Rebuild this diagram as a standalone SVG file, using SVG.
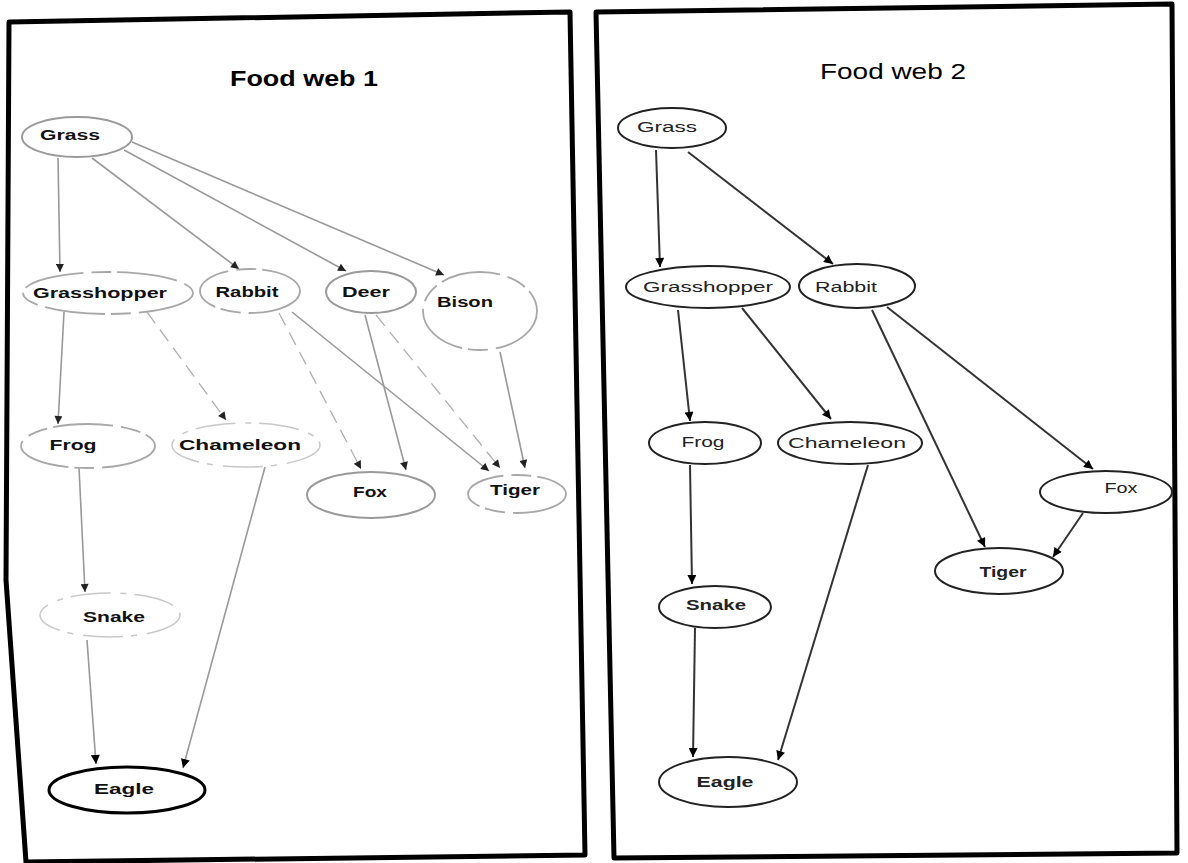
<svg xmlns="http://www.w3.org/2000/svg" width="1188" height="863" viewBox="0 0 1188 863">
<defs>
<style>
.panel{fill:none;stroke:#000;stroke-width:5;stroke-linejoin:round}
.title{font-family:"Liberation Sans",Arial,sans-serif;font-size:22px;fill:#000;text-anchor:middle}
.t1{font-family:"Liberation Sans",Arial,sans-serif;font-size:14px;font-weight:bold;fill:#111;text-anchor:middle}
.t2{font-family:"Liberation Sans",Arial,sans-serif;font-size:14px;fill:#222;text-anchor:middle}
.n1{fill:#fff;stroke:#9a9a9a;stroke-width:2}
.n1d{fill:#fff;stroke:#a8a8a8;stroke-width:1.8;stroke-dasharray:60 8 20 6}
.n1f{fill:#fff;stroke:#c8c8c8;stroke-width:1.5;stroke-dasharray:40 10 6 8}
.n2{fill:#fff;stroke:#222;stroke-width:2}
.e1{fill:none;stroke:#999;stroke-width:1.6}
.e1d{fill:none;stroke:#b0b0b0;stroke-width:1.3;stroke-dasharray:14 8}
.e2{fill:none;stroke:#333;stroke-width:2}
</style>
<marker id="ag" viewBox="0 0 10 10" refX="10" refY="5" markerWidth="9" markerHeight="8" markerUnits="userSpaceOnUse" orient="auto"><path d="M0,0 L10,5 L0,10 z" fill="#222"/></marker>
<marker id="ab" viewBox="0 0 10 10" refX="10" refY="5" markerWidth="10" markerHeight="9" markerUnits="userSpaceOnUse" orient="auto"><path d="M0,0 L10,5 L0,10 z" fill="#000"/></marker>
</defs>
<rect x="0" y="0" width="1188" height="863" fill="#fff"/>

<g id="panel1">
<polygon class="panel" points="9,22 570,12 585,855 26,862 6,580"/>
<text class="title" x="304" y="86" font-weight="bold" textLength="148" lengthAdjust="spacingAndGlyphs">Food web 1</text>
</g>
<g id="panel2">
<polygon class="panel" points="596,12 1172,4 1177,853 614,858"/>
<text class="title" x="893" y="79" textLength="146" lengthAdjust="spacingAndGlyphs">Food web 2</text>
</g>

<g id="connectors">
<!-- Food web 1 -->
<path class="e1" d="M58,158 L60,272" marker-end="url(#ag)"/>
<path class="e1" stroke-width="1.2" d="M92,158 L239,269" marker-end="url(#ag)"/>
<path class="e1" stroke="#888" stroke-width="3" d="M124,150 L346,271" marker-end="url(#ag)"/>
<path class="e1" stroke-width="2.4" d="M132,142 L444,275" marker-end="url(#ag)"/>
<path class="e1" stroke-width="2" d="M64,312 L58,424" marker-end="url(#ag)"/>
<path class="e1d" d="M147,312 L226,420" marker-end="url(#ag)"/>
<path class="e1d" d="M279,313 L361,469" marker-end="url(#ag)"/>
<path class="e1" stroke="#888" stroke-width="2" d="M292,312 L489,471" marker-end="url(#ag)"/>
<path class="e1" stroke="#888" stroke-width="2.5" d="M365,315 L406,470" marker-end="url(#ag)"/>
<path class="e1d" d="M376,315 L500,468" marker-end="url(#ag)"/>
<path class="e1" stroke-width="1.5" d="M500,352 L525,468" marker-end="url(#ag)"/>
<path class="e1" stroke-width="1.5" d="M79,468 L85,592" marker-end="url(#ag)"/>
<path class="e1" stroke="#555" stroke-width="2" d="M265,467 L183,768" marker-end="url(#ab)"/>
<path class="e1" stroke="#222" stroke-width="2.5" d="M87,640 L96,764" marker-end="url(#ab)"/>
<!-- Food web 2 -->
<path class="e2" stroke-width="2.5" d="M656,150 L660,267" marker-end="url(#ab)"/>
<path class="e2" stroke-width="2.5" d="M688,152 L833,264" marker-end="url(#ab)"/>
<path class="e2" stroke="#555" stroke-width="1.5" d="M678,310 L690,421" marker-end="url(#ab)"/>
<path class="e2" d="M742,308 L831,419" marker-end="url(#ab)"/>
<path class="e2" stroke="#444" stroke-width="1.8" d="M872,310 L985,547" marker-end="url(#ab)"/>
<path class="e2" stroke="#777" stroke-width="1" d="M887,307 L1093,469" marker-end="url(#ab)"/>
<path class="e2" d="M1083,513 L1053,557" marker-end="url(#ab)"/>
<path class="e2" d="M690,465 L692,584" marker-end="url(#ab)"/>
<path class="e2" stroke="#444" stroke-width="1.5" d="M868,465 L778,760" marker-end="url(#ab)"/>
<path class="e2" d="M695,628 L693,757" marker-end="url(#ab)"/>
</g>

<!-- Food web 1 nodes -->
<g id="w1-grass"><ellipse class="n1" cx="77" cy="137" rx="55" ry="20"/><text class="t1" x="70" y="140" textLength="60" lengthAdjust="spacingAndGlyphs">Grass</text></g>
<g id="w1-grasshopper"><ellipse class="n1d" cx="108" cy="293" rx="85" ry="21"/><text class="t1" x="100" y="298" textLength="134" lengthAdjust="spacingAndGlyphs">Grasshopper</text></g>
<g id="w1-rabbit"><ellipse class="n1d" cx="250" cy="291" rx="50" ry="22"/><text class="t1" x="247" y="297" textLength="63" lengthAdjust="spacingAndGlyphs">Rabbit</text></g>
<g id="w1-deer"><ellipse class="n1" cx="371" cy="292" rx="45" ry="21"/><text class="t1" x="366" y="297" textLength="48" lengthAdjust="spacingAndGlyphs">Deer</text></g>
<g id="w1-bison"><ellipse class="n1d" cx="480" cy="311" rx="57" ry="39"/><text class="t1" x="465" y="307" textLength="56" lengthAdjust="spacingAndGlyphs">Bison</text></g>
<g id="w1-frog"><ellipse class="n1d" cx="88" cy="446" rx="67" ry="22"/><text class="t1" x="73" y="450" textLength="47" lengthAdjust="spacingAndGlyphs">Frog</text></g>
<g id="w1-chameleon"><ellipse class="n1f" cx="246" cy="445" rx="74" ry="22"/><text class="t1" x="240" y="450" textLength="122" lengthAdjust="spacingAndGlyphs" fill="#333">Chameleon</text></g>
<g id="w1-fox"><ellipse class="n1" cx="371" cy="495" rx="64" ry="23"/><text class="t1" x="370" y="497" textLength="34" lengthAdjust="spacingAndGlyphs">Fox</text></g>
<g id="w1-tiger"><ellipse class="n1d" cx="517" cy="494" rx="49" ry="19"/><text class="t1" x="515" y="495" textLength="50" lengthAdjust="spacingAndGlyphs">Tiger</text></g>
<g id="w1-snake"><ellipse class="n1f" cx="110" cy="615" rx="70" ry="22"/><text class="t1" x="114" y="622" textLength="62" lengthAdjust="spacingAndGlyphs">Snake</text></g>
<g id="w1-eagle"><ellipse cx="127" cy="790" rx="78" ry="23" fill="#fff" stroke="#000" stroke-width="3"/><text class="t1" x="124" y="794" textLength="60" lengthAdjust="spacingAndGlyphs" fill="#000">Eagle</text></g>

<!-- Food web 2 nodes -->
<g id="w2-grass"><ellipse class="n2" cx="672" cy="128" rx="54" ry="20"/><text class="t2" x="667" y="132" textLength="60" lengthAdjust="spacingAndGlyphs">Grass</text></g>
<g id="w2-grasshopper"><ellipse class="n2" cx="708" cy="287" rx="82" ry="21"/><text class="t2" x="708" y="292" textLength="130" lengthAdjust="spacingAndGlyphs">Grasshopper</text></g>
<g id="w2-rabbit"><ellipse class="n2" cx="857" cy="286" rx="58" ry="22"/><text class="t2" x="846" y="292" textLength="62" lengthAdjust="spacingAndGlyphs">Rabbit</text></g>
<g id="w2-frog"><ellipse class="n2" stroke-width="1.6" cx="705" cy="443" rx="56" ry="21"/><text class="t2" x="703" y="447" textLength="43" lengthAdjust="spacingAndGlyphs">Frog</text></g>
<g id="w2-chameleon"><ellipse class="n2" stroke-width="1.6" cx="850" cy="443" rx="72" ry="21"/><text class="t2" x="847" y="448" textLength="118" lengthAdjust="spacingAndGlyphs">Chameleon</text></g>
<g id="w2-fox"><ellipse class="n2" stroke="#444" stroke-width="1.5" cx="1106" cy="492" rx="66" ry="21"/><text class="t2" x="1121" y="493" textLength="33" lengthAdjust="spacingAndGlyphs">Fox</text></g>
<g id="w2-tiger"><ellipse class="n2" stroke-width="2.5" cx="999" cy="571" rx="64" ry="23"/><text class="t2" x="1003" y="577" font-weight="bold" textLength="47" lengthAdjust="spacingAndGlyphs">Tiger</text></g>
<g id="w2-snake"><ellipse class="n2" cx="715" cy="607" rx="56" ry="21"/><text class="t2" x="716" y="610" font-weight="bold" textLength="60" lengthAdjust="spacingAndGlyphs">Snake</text></g>
<g id="w2-eagle"><ellipse class="n2" stroke="#000" stroke-width="2.5" cx="728" cy="782" rx="69" ry="25"/><text class="t2" x="725" y="787" font-weight="bold" fill="#000" textLength="57" lengthAdjust="spacingAndGlyphs">Eagle</text></g>
</svg>
